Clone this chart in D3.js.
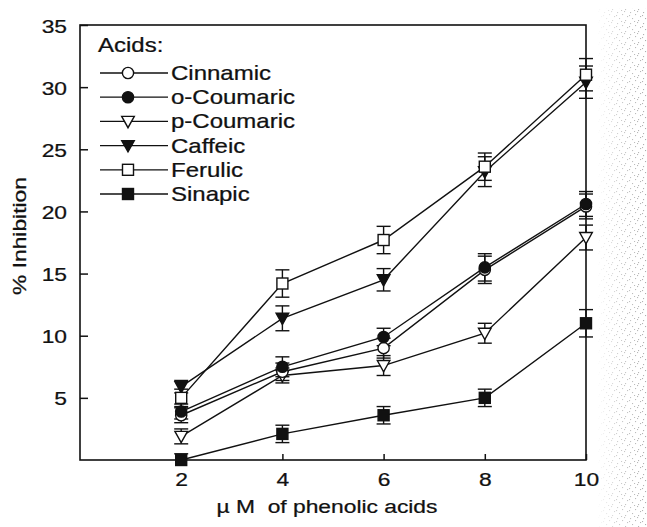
<!DOCTYPE html>
<html>
<head>
<meta charset="utf-8">
<script src="https://cdn.jsdelivr.net/npm/d3@7"></script>
<style>
  html, body { margin: 0; padding: 0; background: #fff; }
  svg { display: block; }
  text { font-family: "Liberation Sans", Arial, Helvetica, sans-serif; fill: #111; stroke: #111; stroke-width: 0.25px; }
</style>
</head>
<body>
<svg id="chart" width="647" height="527"></svg>
<script>
// Concentrations (µM) on the x axis
const concentrations = [2, 4, 6, 8, 10];

// Mean % inhibition for each phenolic acid
const cinnamic   = [3.6, 7.1, 9.0, 15.3, 20.4];
const oCoumaric  = [3.9, 7.5, 9.9, 15.5, 20.6];
const pCoumaric  = [1.9, 6.8, 7.6, 10.2, 17.9];
const caffeic    = [5.9, 11.4, 14.5, 23.2, 30.4];
const ferulic    = [5.0, 14.2, 17.7, 23.6, 31.0];
const sinapic    = [0.0, 2.1, 3.6, 5.0, 11.0];

// Standard errors (±)
const cinnamicErr  = [0.6, 0.7, 0.8, 1.1, 1.0];
const oCoumaricErr = [0.6, 0.8, 0.7, 1.1, 1.0];
const pCoumaricErr = [0.6, 0.6, 0.8, 0.8, 1.0];
const caffeicErr   = [0.5, 1.0, 0.9, 1.2, 1.3];
const ferulicErr   = [0.7, 1.1, 1.1, 1.1, 1.3];
const sinapicErr   = [0.5, 0.7, 0.7, 0.7, 1.1];

const seriesNames = ["Cinnamic", "o-Coumaric", "p-Coumaric", "Caffeic", "Ferulic", "Sinapic"];
const yTickValues = [5, 10, 15, 20, 25, 30, 35];
const xTickValues = [2, 4, 6, 8, 10];

const series = [
  { name: seriesNames[0], values: cinnamic,  err: cinnamicErr,  shape: "circle",   filled: false },
  { name: seriesNames[1], values: oCoumaric, err: oCoumaricErr, shape: "circle",   filled: true  },
  { name: seriesNames[2], values: pCoumaric, err: pCoumaricErr, shape: "triangle", filled: false },
  { name: seriesNames[3], values: caffeic,   err: caffeicErr,   shape: "triangle", filled: true  },
  { name: seriesNames[4], values: ferulic,   err: ferulicErr,   shape: "square",   filled: false },
  { name: seriesNames[5], values: sinapic,   err: sinapicErr,   shape: "square",   filled: true  }
];

const svg = d3.select("#chart");
const plot = { left: 80, right: 586, top: 25, bottom: 460 };
const x = d3.scaleLinear().domain([0, 10]).range([plot.left, plot.right]);
const y = d3.scaleLinear().domain([0, 35]).range([plot.bottom, plot.top]);

// Stippled margin on the right edge of the page
const defs = svg.append("defs");
const pat = defs.append("pattern").attr("id", "stipple")
  .attr("width", 13).attr("height", 11).attr("patternUnits", "userSpaceOnUse");
[[0,0],[6,1],[11,3],[3,5],[8,7],[1,9],[10,10],[5,4]].forEach(([px, py]) => {
  pat.append("rect").attr("x", px).attr("y", py).attr("width", 1.1).attr("height", 1.1).attr("fill", "#a8a8a8");
});
const grad = defs.append("linearGradient").attr("id", "fadeIn").attr("x1", 0).attr("x2", 1).attr("y1", 0).attr("y2", 0);
grad.append("stop").attr("offset", 0).attr("stop-color", "#fff").attr("stop-opacity", 0);
grad.append("stop").attr("offset", 0.4).attr("stop-color", "#fff").attr("stop-opacity", 0.55);
grad.append("stop").attr("offset", 1).attr("stop-color", "#fff").attr("stop-opacity", 0.95);
const mask = defs.append("mask").attr("id", "stippleMask");
mask.append("rect").attr("x", 597).attr("y", 8).attr("width", 50).attr("height", 519).attr("fill", "url(#fadeIn)");
svg.append("rect").attr("x", 597).attr("y", 8).attr("width", 50).attr("height", 519)
  .attr("fill", "url(#stipple)").attr("mask", "url(#stippleMask)");

const sx = 1.2; // horizontal stretch of the lettering

// Frame
svg.append("rect")
  .attr("x", plot.left).attr("y", plot.top)
  .attr("width", plot.right - plot.left).attr("height", plot.bottom - plot.top)
  .attr("fill", "none").attr("stroke", "#111").attr("stroke-width", 1.6);

// Y axis (inward ticks)
const yAxis = svg.append("g").attr("transform", `translate(${plot.left},0)`)
  .call(d3.axisLeft(y).tickValues(yTickValues).tickSizeInner(-8).tickSizeOuter(0).tickPadding(0).tickFormat(d3.format("d")));
yAxis.select(".domain").remove();
yAxis.selectAll(".tick line").attr("stroke", "#111").attr("stroke-width", 1.5);
yAxis.selectAll(".tick text")
  .attr("x", null).attr("dy", null)
  .attr("transform", `translate(-13,7) scale(${sx},1)`)
  .attr("text-anchor", "end")
  .style("font-size", "19px");

// X axis (inward ticks)
const xAxis = svg.append("g").attr("transform", `translate(0,${plot.bottom})`)
  .call(d3.axisBottom(x).tickValues(xTickValues).tickSizeInner(-6).tickSizeOuter(0).tickPadding(0).tickFormat(d3.format("d")));
xAxis.select(".domain").remove();
xAxis.selectAll(".tick line").attr("stroke", "#111").attr("stroke-width", 1.5);
xAxis.selectAll(".tick text")
  .attr("y", null).attr("dy", null)
  .attr("transform", `translate(0,26) scale(${sx},1)`)
  .attr("text-anchor", "middle")
  .style("font-size", "19px");

// Axis titles
svg.append("text")
  .attr("transform", `translate(26,236) rotate(-90) scale(${sx},1)`)
  .attr("text-anchor", "middle")
  .style("font-size", "19px")
  .text("% Inhibition");
svg.append("text")
  .attr("transform", `translate(327,513) scale(${sx},1)`)
  .attr("text-anchor", "middle")
  .style("font-size", "19px")
  .attr("xml:space", "preserve")
  .text("\u00B5 M  of phenolic acids");

// Marker drawing
function drawMarker(g, shape, filled, cx, cy) {
  const fill = filled ? "#111" : "#fff";
  if (shape === "circle") {
    g.append("circle").attr("cx", cx).attr("cy", cy).attr("r", 5.6)
      .attr("fill", fill).attr("stroke", "#111").attr("stroke-width", 1.4);
  } else if (shape === "triangle") {
    const p = [[cx - 6.3, cy - 5], [cx + 6.3, cy - 5], [cx, cy + 6.3]];
    g.append("path").attr("d", "M" + p.map(q => q.join(",")).join("L") + "Z")
      .attr("fill", fill).attr("stroke", "#111").attr("stroke-width", 1.4).attr("stroke-linejoin", "miter");
  } else {
    g.append("rect").attr("x", cx - 5.5).attr("y", cy - 5.5).attr("width", 11).attr("height", 11)
      .attr("fill", fill).attr("stroke", "#111").attr("stroke-width", 1.4);
  }
}

const line = d3.line().x((d, i) => x(concentrations[i])).y(d => y(d));
const drawOrder = [5, 2, 0, 1, 3, 4];

// Lines
drawOrder.forEach(k => {
  const s = series[k];
  svg.append("path").datum(s.values).attr("d", line)
    .attr("fill", "none").attr("stroke", "#111").attr("stroke-width", 1.4);
});

// Error bars
drawOrder.forEach(k => {
  const s = series[k];
  const g = svg.append("g").attr("stroke", "#111").attr("stroke-width", 1.4);
  s.values.forEach((v, i) => {
    const cx = x(concentrations[i]);
    const lo = y(Math.max(0, v - s.err[i])), hi = y(v + s.err[i]);
    g.append("line").attr("x1", cx).attr("x2", cx).attr("y1", lo).attr("y2", hi);
    g.append("line").attr("x1", cx - 7).attr("x2", cx + 7).attr("y1", hi).attr("y2", hi);
    if (v - s.err[i] > 0) g.append("line").attr("x1", cx - 7).attr("x2", cx + 7).attr("y1", lo).attr("y2", lo);
  });
});

// Markers
drawOrder.forEach(k => {
  const s = series[k];
  const g = svg.append("g");
  s.values.forEach((v, i) => drawMarker(g, s.shape, s.filled, x(concentrations[i]), y(v)));
});

// Legend
const legend = svg.append("g");
legend.append("text")
  .attr("transform", `translate(98,52) scale(${sx},1)`)
  .style("font-size", "20px").text("Acids:");
series.forEach((s, i) => {
  const cy = 73 + i * 24.2;
  legend.append("line").attr("x1", 100).attr("x2", 168).attr("y1", cy).attr("y2", cy)
    .attr("stroke", "#111").attr("stroke-width", 1.3);
  drawMarker(legend, s.shape, s.filled, 128, cy);
  legend.append("text")
    .attr("transform", `translate(171,${cy + 7}) scale(${sx},1)`)
    .style("font-size", "20px").text(s.name);
});
</script>
</body>
</html>
